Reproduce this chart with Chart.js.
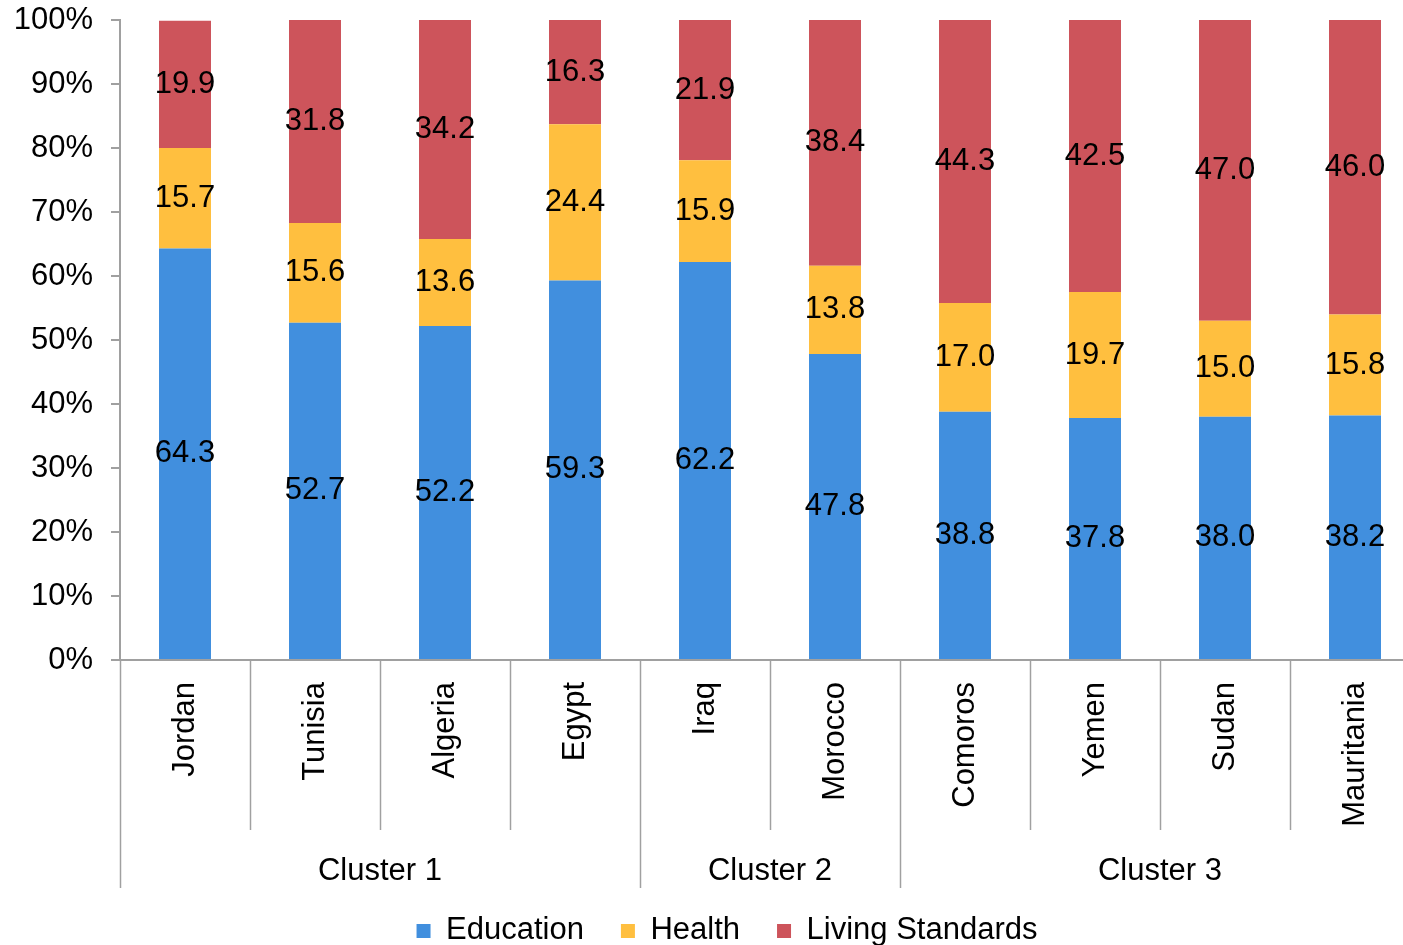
<!DOCTYPE html>
<html>
<head>
<meta charset="utf-8">
<script src="https://cdn.jsdelivr.net/npm/chart.js@4/dist/chart.umd.min.js"></script>
<style>
  html, body { margin: 0; padding: 0; background: #fff; overflow: hidden; }
  #wrap { width: 1420px; height: 945px; }
</style>
</head>
<body>
<div id="wrap"><canvas id="chart" width="1420" height="945"></canvas></div>
<script>
const countries = ['Jordan', 'Tunisia', 'Algeria', 'Egypt', 'Iraq', 'Morocco', 'Comoros', 'Yemen', 'Sudan', 'Mauritania'];
const clusters = ['Cluster 1', 'Cluster 2', 'Cluster 3'];
const clusterSizes = [4, 2, 4];

const education = [64.3, 52.7, 52.2, 59.3, 62.2, 47.8, 38.8, 37.8, 38.0, 38.2];
const health = [15.7, 15.6, 13.6, 24.4, 15.9, 13.8, 17.0, 19.7, 15.0, 15.8];
const livingStandards = [19.9, 31.8, 34.2, 16.3, 21.9, 38.4, 44.3, 42.5, 47.0, 46.0];

const FONT = "'Liberation Sans', Arial, sans-serif";
const AXIS_GREY = '#a0a0a0';
const PLOT_TOP = 20;
const PLOT_BOTTOM = 660;
const LEGEND_Y = 934;
const LEGEND_SHIFT_X = 17;

// value labels in the middle of each stacked segment
const segmentLabels = {
  id: 'segmentLabels',
  afterDatasetsDraw(chart) {
    const ctx = chart.ctx;
    ctx.save();
    ctx.font = '31px ' + FONT;
    ctx.fillStyle = '#000';
    ctx.textAlign = 'center';
    ctx.textBaseline = 'middle';
    chart.data.datasets.forEach((ds, i) => {
      const meta = chart.getDatasetMeta(i);
      meta.data.forEach((bar, j) => {
        const y = (bar.y + bar.base) / 2;
        ctx.fillText(ds.data[j].toFixed(1), bar.x, y);
      });
    });
    ctx.restore();
  }
};

// category dividers and the cluster row under the x axis
const clusterAxis = {
  id: 'clusterAxis',
  afterDraw(chart) {
    const ctx = chart.ctx;
    const x = chart.scales.x;
    const bottom = chart.chartArea.bottom;
    const step = x.getPixelForValue(1) - x.getPixelForValue(0);
    const edge = i => x.getPixelForValue(i) - step / 2;

    const starts = [0];
    clusterSizes.forEach((n, k) => starts.push(starts[k] + n));

    ctx.save();
    ctx.strokeStyle = AXIS_GREY;
    ctx.lineWidth = 1.5;
    for (let i = 0; i <= countries.length; i++) {
      const px = Math.round(edge(i)) + 0.5;
      const len = starts.includes(i) ? 228 : 170;
      ctx.beginPath();
      ctx.moveTo(px, bottom);
      ctx.lineTo(px, bottom + len);
      ctx.stroke();
    }

    ctx.font = '31px ' + FONT;
    ctx.fillStyle = '#000';
    ctx.textAlign = 'center';
    ctx.textBaseline = 'middle';
    clusters.forEach((name, k) => {
      const mid = (edge(starts[k]) + edge(starts[k + 1])) / 2;
      ctx.fillText(name, mid, bottom + 211);
    });
    ctx.restore();
  }
};

// nudge the legend row down to the bottom edge
const legendPlacement = {
  id: 'legendPlacement',
  afterLayout(chart) {
    const lg = chart.legend;
    const lab = lg.options.labels;
    const lineH = lab.font.size * 1.2;
    const dy = LEGEND_Y - (lg.top + lab.padding + lineH / 2);
    lg.top += dy;
    lg.bottom += dy;
    lg.left += LEGEND_SHIFT_X;
    lg.right += LEGEND_SHIFT_X;
  }
};

new Chart(document.getElementById('chart'), {
  type: 'bar',
  data: {
    labels: countries,
    datasets: [
      { label: 'Education', data: education, backgroundColor: '#418FDE' },
      { label: 'Health', data: health, backgroundColor: '#FFBF3F' },
      { label: 'Living Standards', data: livingStandards, backgroundColor: '#CD545B' }
    ]
  },
  options: {
    responsive: false,
    animation: false,
    layout: { padding: { top: PLOT_TOP, left: 0, right: 0, bottom: 0 } },
    datasets: { bar: { barPercentage: 0.8, categoryPercentage: 0.5 } },
    scales: {
      x: {
        stacked: true,
        grid: { display: false },
        border: { color: AXIS_GREY, width: 2 },
        ticks: {
          color: '#000',
          font: { family: FONT, size: 31 },
          minRotation: 90,
          maxRotation: 90,
          padding: 14,
          autoSkip: false
        },
        // keep the plot floor at the same height whatever the legend takes
        afterFit(s) { s.height = s.chart.height - PLOT_BOTTOM - s.chart.legend.height; }
      },
      y: {
        stacked: true,
        min: 0,
        max: 100,
        grid: { drawOnChartArea: false, color: AXIS_GREY, tickLength: 9, lineWidth: 2 },
        border: { color: AXIS_GREY, width: 2 },
        ticks: {
          stepSize: 10,
          color: '#000',
          padding: 18,
          font: { family: FONT, size: 31 },
          callback: v => v + '%'
        },
        afterFit(s) {
          s.width = 120;
          s.paddingTop = 0;
          s.paddingBottom = 0;
        }
      }
    },
    plugins: {
      legend: {
        position: 'bottom',
        labels: {
          color: '#000',
          font: { family: FONT, size: 31 },
          boxWidth: 14,
          boxHeight: 14,
          padding: 37
        }
      },
      tooltip: { enabled: false }
    }
  },
  plugins: [segmentLabels, clusterAxis, legendPlacement]
});
</script>
</body>
</html>
